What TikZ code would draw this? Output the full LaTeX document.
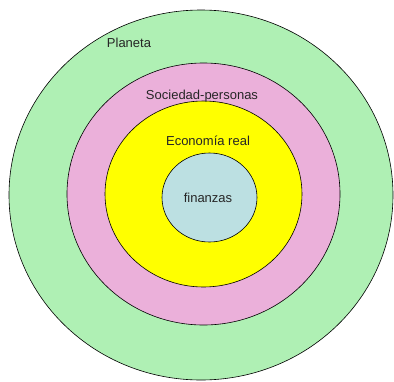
\documentclass[tikz,border=0pt]{standalone}
\usepackage{fontspec}
\setmainfont{Liberation Sans}
\definecolor{planetgreen}{HTML}{AFF0B4}
\definecolor{socpink}{HTML}{EBB0DA}
\definecolor{ecoyellow}{HTML}{FFFF00}
\definecolor{finblue}{HTML}{BCE0E2}
\begin{document}
\begin{tikzpicture}[x=1pt, y=-1pt,
	ring/.style={draw=black, line width=0.6pt},
	lbl/.style={inner sep=0pt, font=\fontsize{13}{15}\selectfont, text=black!85}]
\useasboundingbox (0, 0) rectangle (394, 381);

\filldraw[ring, fill=planetgreen] (201, 195) ellipse [x radius=192, y radius=185];
\filldraw[ring, fill=socpink] (203.5, 194) ellipse [x radius=136.5, y radius=131];
\filldraw[ring, fill=ecoyellow] (203.5, 194) ellipse [x radius=98.5, y radius=93];
\filldraw[ring, fill=finblue] (209.5, 197.5) ellipse [x radius=47.5, y radius=44.5];

\node[lbl] (planeta) at (129, 43) {Planeta};
\node[lbl] (sociedad) at (202, 96) {Sociedad-personas};
\node[lbl] (economia) at (208, 141) {Economía real};
\node[lbl] (finanzas) at (208, 198) {finanzas};
\end{tikzpicture}
\end{document}
